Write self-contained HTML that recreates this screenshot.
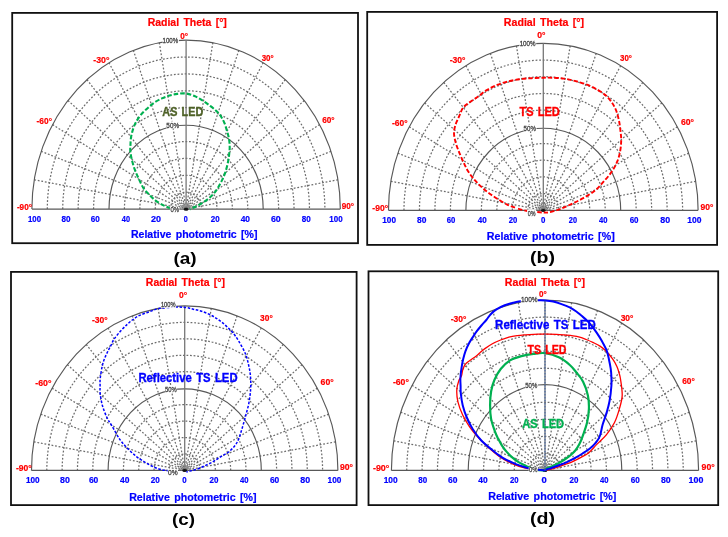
<!DOCTYPE html>
<html><head><meta charset="utf-8"><style>
html,body{margin:0;padding:0;background:#fff;}
svg{display:block;will-change:transform;}
text{font-family:"Liberation Sans",sans-serif;}
.dot{fill:none;stroke:#6c6c6c;stroke-width:1.25;stroke-dasharray:1.8 1.8;}
.sol{fill:none;stroke:#585858;stroke-width:1.15;}
.ctr{fill:none;stroke:#777;stroke-width:1.3;}
</style></head><body>
<svg width="728" height="537" viewBox="0 0 728 537">
<rect width="728" height="537" fill="#fff"/>
<rect x="12.2" y="12.9" width="345.8" height="230.3" fill="none" stroke="#111" stroke-width="1.8"/>
<g id="G_a"><path class="dot" d="M170.68 209.1 A15.42 16.9 0 0 1 201.52 209.1"/>
<path class="dot" d="M155.26 209.1 A30.84 33.8 0 0 1 216.94 209.1"/>
<path class="dot" d="M139.84 209.1 A46.26 50.7 0 0 1 232.36 209.1"/>
<path class="dot" d="M124.42 209.1 A61.68 67.6 0 0 1 247.78 209.1"/>
<path class="dot" d="M93.58 209.1 A92.52 101.4 0 0 1 278.62 209.1"/>
<path class="dot" d="M78.16 209.1 A107.94 118.3 0 0 1 294.04 209.1"/>
<path class="dot" d="M62.74 209.1 A123.36 135.2 0 0 1 309.46 209.1"/>
<path class="dot" d="M47.32 209.1 A138.78 152.1 0 0 1 324.88 209.1"/>
<path class="dot" d="M34.24 179.75 L186.1 209.1"/>
<path class="dot" d="M41.2 151.3 L186.1 209.1"/>
<path class="dot" d="M52.56 124.6 L186.1 209.1"/>
<path class="dot" d="M67.98 100.47 L186.1 209.1"/>
<path class="dot" d="M86.98 79.64 L186.1 209.1"/>
<path class="dot" d="M109 62.74 L186.1 209.1"/>
<path class="dot" d="M133.36 50.29 L186.1 209.1"/>
<path class="dot" d="M159.32 42.67 L186.1 209.1"/>
<path class="dot" d="M212.88 42.67 L186.1 209.1"/>
<path class="dot" d="M238.84 50.29 L186.1 209.1"/>
<path class="dot" d="M263.2 62.74 L186.1 209.1"/>
<path class="dot" d="M285.22 79.64 L186.1 209.1"/>
<path class="dot" d="M304.22 100.47 L186.1 209.1"/>
<path class="dot" d="M319.64 124.6 L186.1 209.1"/>
<path class="dot" d="M331 151.3 L186.1 209.1"/>
<path class="dot" d="M337.96 179.75 L186.1 209.1"/>
<path class="sol" d="M109 209.1 A77.1 83.9 0 0 1 263.2 209.1"/>
<path class="sol" d="M31.9 209.1 A154.2 169 0 0 1 340.3 209.1"/>
<path class="ctr" d="M186.1 209.1 L186.1 40.1"/>
<path class="sol" d="M31.9 209.1 L340.3 209.1"/>
<path d="M181.1 209.1 A5 5.25 0 0 1 191.1 209.1" fill="none" stroke="#999" stroke-width="0.8"/>
<path d="M183.1 209.1 A3 3.15 0 0 1 189.1 209.1" fill="none" stroke="#999" stroke-width="0.8"/>
<ellipse cx="186.1" cy="209.3" rx="2.4" ry="1.5" fill="#111"/></g>
<rect x="367.2" y="11.9" width="349.9" height="233" fill="none" stroke="#111" stroke-width="1.8"/>
<g id="G_b"><path class="dot" d="M527.82 210.3 A15.48 16.7 0 0 1 558.78 210.3"/>
<path class="dot" d="M512.34 210.3 A30.96 33.4 0 0 1 574.26 210.3"/>
<path class="dot" d="M496.86 210.3 A46.44 50.1 0 0 1 589.74 210.3"/>
<path class="dot" d="M481.38 210.3 A61.92 66.8 0 0 1 605.22 210.3"/>
<path class="dot" d="M450.42 210.3 A92.88 100.2 0 0 1 636.18 210.3"/>
<path class="dot" d="M434.94 210.3 A108.36 116.9 0 0 1 651.66 210.3"/>
<path class="dot" d="M419.46 210.3 A123.84 133.6 0 0 1 667.14 210.3"/>
<path class="dot" d="M403.98 210.3 A139.32 150.3 0 0 1 682.62 210.3"/>
<path class="dot" d="M390.85 181.3 L543.3 210.3"/>
<path class="dot" d="M397.84 153.18 L543.3 210.3"/>
<path class="dot" d="M409.24 126.8 L543.3 210.3"/>
<path class="dot" d="M424.72 102.95 L543.3 210.3"/>
<path class="dot" d="M443.8 82.37 L543.3 210.3"/>
<path class="dot" d="M465.9 65.67 L543.3 210.3"/>
<path class="dot" d="M490.36 53.37 L543.3 210.3"/>
<path class="dot" d="M516.42 45.84 L543.3 210.3"/>
<path class="dot" d="M570.18 45.84 L543.3 210.3"/>
<path class="dot" d="M596.24 53.37 L543.3 210.3"/>
<path class="dot" d="M620.7 65.67 L543.3 210.3"/>
<path class="dot" d="M642.8 82.37 L543.3 210.3"/>
<path class="dot" d="M661.88 102.95 L543.3 210.3"/>
<path class="dot" d="M677.36 126.8 L543.3 210.3"/>
<path class="dot" d="M688.76 153.18 L543.3 210.3"/>
<path class="dot" d="M695.75 181.3 L543.3 210.3"/>
<path class="sol" d="M465.9 210.3 A77.4 82.1 0 0 1 620.7 210.3"/>
<path class="sol" d="M388.5 210.3 A154.8 167 0 0 1 698.1 210.3"/>
<path class="ctr" d="M543.3 210.3 L543.3 43.3"/>
<path class="sol" d="M388.5 210.3 L698.1 210.3"/>
<path d="M538.3 210.3 A5 5.25 0 0 1 548.3 210.3" fill="none" stroke="#999" stroke-width="0.8"/>
<path d="M540.3 210.3 A3 3.15 0 0 1 546.3 210.3" fill="none" stroke="#999" stroke-width="0.8"/>
<ellipse cx="543.3" cy="210.5" rx="2.4" ry="1.5" fill="#111"/></g>
<rect x="11" y="271.9" width="345.6" height="233.2" fill="none" stroke="#111" stroke-width="1.8"/>
<g id="G_c"><path class="dot" d="M169.38 470.4 A15.32 16.45 0 0 1 200.02 470.4"/>
<path class="dot" d="M154.06 470.4 A30.64 32.9 0 0 1 215.34 470.4"/>
<path class="dot" d="M138.74 470.4 A45.96 49.35 0 0 1 230.66 470.4"/>
<path class="dot" d="M123.42 470.4 A61.28 65.8 0 0 1 245.98 470.4"/>
<path class="dot" d="M92.78 470.4 A91.92 98.7 0 0 1 276.62 470.4"/>
<path class="dot" d="M77.46 470.4 A107.24 115.15 0 0 1 291.94 470.4"/>
<path class="dot" d="M62.14 470.4 A122.56 131.6 0 0 1 307.26 470.4"/>
<path class="dot" d="M46.82 470.4 A137.88 148.05 0 0 1 322.58 470.4"/>
<path class="dot" d="M33.83 441.83 L184.7 470.4"/>
<path class="dot" d="M40.74 414.14 L184.7 470.4"/>
<path class="dot" d="M52.02 388.15 L184.7 470.4"/>
<path class="dot" d="M67.34 364.66 L184.7 470.4"/>
<path class="dot" d="M86.22 344.39 L184.7 470.4"/>
<path class="dot" d="M108.1 327.94 L184.7 470.4"/>
<path class="dot" d="M132.3 315.82 L184.7 470.4"/>
<path class="dot" d="M158.1 308.4 L184.7 470.4"/>
<path class="dot" d="M211.3 308.4 L184.7 470.4"/>
<path class="dot" d="M237.1 315.82 L184.7 470.4"/>
<path class="dot" d="M261.3 327.94 L184.7 470.4"/>
<path class="dot" d="M283.18 344.39 L184.7 470.4"/>
<path class="dot" d="M302.06 364.66 L184.7 470.4"/>
<path class="dot" d="M317.38 388.15 L184.7 470.4"/>
<path class="dot" d="M328.66 414.14 L184.7 470.4"/>
<path class="dot" d="M335.57 441.83 L184.7 470.4"/>
<path class="sol" d="M108.1 470.4 A76.6 81.6 0 0 1 261.3 470.4"/>
<path class="sol" d="M31.5 470.4 A153.2 164.5 0 0 1 337.9 470.4"/>
<path class="ctr" d="M184.7 470.4 L184.7 305.9"/>
<path class="sol" d="M31.5 470.4 L337.9 470.4"/>
<path d="M179.7 470.4 A5 5.25 0 0 1 189.7 470.4" fill="none" stroke="#999" stroke-width="0.8"/>
<path d="M181.7 470.4 A3 3.15 0 0 1 187.7 470.4" fill="none" stroke="#999" stroke-width="0.8"/>
<ellipse cx="184.7" cy="470.6" rx="2.4" ry="1.5" fill="#111"/></g>
<rect x="368.5" y="271.3" width="349.7" height="233.8" fill="none" stroke="#111" stroke-width="1.8"/>
<g id="G_d"><path class="dot" d="M529.64 470.4 A15.36 17.03 0 0 1 560.36 470.4"/>
<path class="dot" d="M514.28 470.4 A30.72 34.06 0 0 1 575.72 470.4"/>
<path class="dot" d="M498.92 470.4 A46.08 51.09 0 0 1 591.08 470.4"/>
<path class="dot" d="M483.56 470.4 A61.44 68.12 0 0 1 606.44 470.4"/>
<path class="dot" d="M452.84 470.4 A92.16 102.18 0 0 1 637.16 470.4"/>
<path class="dot" d="M437.48 470.4 A107.52 119.21 0 0 1 652.52 470.4"/>
<path class="dot" d="M422.12 470.4 A122.88 136.24 0 0 1 667.88 470.4"/>
<path class="dot" d="M406.76 470.4 A138.24 153.27 0 0 1 683.24 470.4"/>
<path class="dot" d="M393.73 440.83 L545 470.4"/>
<path class="dot" d="M400.66 412.15 L545 470.4"/>
<path class="dot" d="M411.98 385.25 L545 470.4"/>
<path class="dot" d="M427.34 360.93 L545 470.4"/>
<path class="dot" d="M446.27 339.94 L545 470.4"/>
<path class="dot" d="M468.2 322.92 L545 470.4"/>
<path class="dot" d="M492.47 310.37 L545 470.4"/>
<path class="dot" d="M518.33 302.69 L545 470.4"/>
<path class="dot" d="M571.67 302.69 L545 470.4"/>
<path class="dot" d="M597.53 310.37 L545 470.4"/>
<path class="dot" d="M621.8 322.92 L545 470.4"/>
<path class="dot" d="M643.73 339.94 L545 470.4"/>
<path class="dot" d="M662.66 360.93 L545 470.4"/>
<path class="dot" d="M678.02 385.25 L545 470.4"/>
<path class="dot" d="M689.34 412.15 L545 470.4"/>
<path class="dot" d="M696.27 440.83 L545 470.4"/>
<path class="sol" d="M468.2 470.4 A76.8 85.8 0 0 1 621.8 470.4"/>
<path class="sol" d="M391.4 470.4 A153.6 170.3 0 0 1 698.6 470.4"/>
<path class="ctr" d="M545 470.4 L545 300.1"/>
<path class="sol" d="M391.4 470.4 L698.6 470.4"/>
<path d="M540 470.4 A5 5.25 0 0 1 550 470.4" fill="none" stroke="#999" stroke-width="0.8"/>
<path d="M542 470.4 A3 3.15 0 0 1 548 470.4" fill="none" stroke="#999" stroke-width="0.8"/>
<ellipse cx="545" cy="470.6" rx="2.4" ry="1.5" fill="#111"/></g>
<g id="CURVES">
<path d="M170.5 208.6 C170.35 208.48 170.55 208.33 169.6 207.9 C168.65 207.47 166.9 207.05 164.8 206 C162.7 204.95 159.42 203.3 157 201.6 C154.58 199.9 152.55 198.05 150.3 195.8 C148.05 193.55 145.45 191 143.5 188.1 C141.55 185.2 140.05 181.47 138.6 178.4 C137.15 175.33 135.92 172.77 134.8 169.7 C133.68 166.63 132.65 163.08 131.9 160 C131.15 156.92 130.53 153.87 130.3 151.2 C130.07 148.53 130.37 146.38 130.5 144 C130.63 141.62 130.62 139.57 131.1 136.9 C131.58 134.23 132.55 130.52 133.4 128 C134.25 125.48 135 123.95 136.2 121.8 C137.4 119.65 138.75 117.33 140.6 115.1 C142.45 112.87 145.07 110.45 147.3 108.4 C149.53 106.35 151.57 104.47 154 102.8 C156.43 101.13 159.28 99.6 161.9 98.4 C164.52 97.2 167.1 96.35 169.7 95.6 C172.3 94.85 174.78 94.25 177.5 93.9 C180.22 93.55 183.17 93.15 186 93.5 C188.83 93.85 191.78 94.87 194.5 96 C197.22 97.13 199.68 98.65 202.3 100.3 C204.92 101.95 207.77 104.03 210.2 105.9 C212.63 107.77 215.05 109.65 216.9 111.5 C218.75 113.35 220 114.97 221.3 117 C222.6 119.03 223.67 121.08 224.7 123.7 C225.73 126.32 226.77 130.08 227.5 132.7 C228.23 135.32 228.73 136.98 229.1 139.4 C229.47 141.82 229.67 144.93 229.7 147.2 C229.73 149.47 229.55 150.7 229.3 153 C229.05 155.3 228.85 157.82 228.2 161 C227.55 164.18 226.57 168.62 225.4 172.1 C224.23 175.58 222.72 178.87 221.2 181.9 C219.68 184.93 218.15 187.73 216.3 190.3 C214.45 192.87 212.42 195.2 210.1 197.3 C207.78 199.4 204.85 201.32 202.4 202.9 C199.95 204.48 197.5 205.75 195.4 206.8 C193.3 207.85 190.73 208.8 189.8 209.2" fill="none" stroke="#00b050" stroke-width="2.1" stroke-dasharray="4.6 2"/>
<path d="M515 207.7 C513.77 207.22 510.32 206.15 507.6 204.8 C504.88 203.45 501.68 201.45 498.7 199.6 C495.72 197.75 492.43 195.68 489.7 193.7 C486.97 191.72 484.78 189.95 482.3 187.7 C479.82 185.45 477.17 182.93 474.8 180.2 C472.43 177.47 470.08 174.52 468.1 171.3 C466.12 168.08 464.52 164.38 462.9 160.9 C461.28 157.42 459.65 153.63 458.4 150.4 C457.15 147.17 456.13 144.4 455.4 141.5 C454.67 138.6 454 135.73 454 133 C454 130.27 454.53 127.9 455.4 125.1 C456.27 122.3 457.95 119.05 459.2 116.2 C460.45 113.35 461.3 110.23 462.9 108 C464.5 105.77 466.32 104.67 468.8 102.8 C471.28 100.93 474.82 98.92 477.8 96.8 C480.78 94.68 483.47 92.08 486.7 90.1 C489.93 88.12 493.72 86.32 497.2 84.9 C500.68 83.48 503.88 82.55 507.6 81.6 C511.32 80.65 515.53 79.77 519.5 79.2 C523.47 78.63 527.42 78.45 531.4 78.2 C535.38 77.95 539.98 77.78 543.4 77.7 C546.82 77.62 548.5 77.55 551.9 77.7 C555.3 77.85 559.82 78.02 563.8 78.6 C567.78 79.18 571.82 80.15 575.8 81.2 C579.78 82.25 583.98 83.42 587.7 84.9 C591.42 86.38 595.12 88.37 598.1 90.1 C601.08 91.83 603.37 93.32 605.6 95.3 C607.83 97.28 609.77 99.52 611.5 102 C613.23 104.48 614.75 107.08 616 110.2 C617.25 113.32 618.25 117.22 619 120.7 C619.75 124.18 620.13 127.88 620.5 131.1 C620.87 134.32 621.23 136.78 621.2 140 C621.17 143.22 620.92 146.92 620.3 150.4 C619.68 153.88 618.88 157.42 617.5 160.9 C616.12 164.38 614.32 167.83 612 171.3 C609.68 174.77 606.48 178.47 603.6 181.7 C600.72 184.93 598.1 187.97 594.7 190.7 C591.3 193.43 587.1 195.87 583.2 198.1 C579.3 200.33 575.27 202.23 571.3 204.1 C567.33 205.97 563.12 207.93 559.4 209.3 C555.68 210.67 551.73 211.77 549 212.3 C546.27 212.83 545.33 212.58 543 212.5 C540.67 212.42 537.8 212.08 535 211.8 C532.2 211.52 529.03 211.33 526.2 210.8 C523.37 210.27 519.37 208.97 518 208.6" fill="none" stroke="#ff0000" stroke-width="1.9" stroke-dasharray="4.5 2"/>
<path d="M169 471 C168.65 470.93 168.08 470.8 166.9 470.6 C165.72 470.4 164.13 470.42 161.9 469.8 C159.67 469.18 156.3 468.15 153.5 466.9 C150.7 465.65 147.88 463.98 145.1 462.3 C142.32 460.62 139.58 458.97 136.8 456.8 C134.02 454.63 131.2 452.17 128.4 449.3 C125.6 446.43 122.8 443.6 120 439.6 C117.2 435.6 113.78 428.98 111.6 425.3 C109.42 421.62 108.43 420.8 106.9 417.5 C105.37 414.2 103.52 409.48 102.4 405.5 C101.28 401.52 100.58 396.85 100.2 393.6 C99.82 390.35 100.1 388.48 100.1 386 C100.1 383.52 99.82 382.15 100.2 378.7 C100.58 375.25 101.57 368.92 102.4 365.3 C103.23 361.68 104.18 359.55 105.2 357 C106.22 354.45 107.53 351.95 108.5 350 C109.47 348.05 110.08 347.08 111 345.3 C111.92 343.52 112.4 341.68 114 339.3 C115.6 336.92 118.4 333.48 120.6 331 C122.8 328.52 125.13 326.32 127.2 324.4 C129.27 322.48 130.93 321 133 319.5 C135.07 318 136.85 316.7 139.6 315.4 C142.35 314.1 146.1 312.88 149.5 311.7 C152.9 310.52 155.93 309.05 160 308.3 C164.07 307.55 169.73 307.35 173.9 307.2 C178.07 307.05 181.78 307.07 185 307.4 C188.22 307.73 190.45 308.57 193.2 309.2 C195.95 309.83 198.75 310.32 201.5 311.2 C204.25 312.08 207.23 313.32 209.7 314.5 C212.17 315.68 214.23 316.98 216.3 318.3 C218.37 319.62 220.17 320.83 222.1 322.4 C224.03 323.97 226.12 325.98 227.9 327.7 C229.68 329.42 231.02 330.5 232.8 332.7 C234.58 334.9 236.5 337.4 238.6 340.9 C240.7 344.4 243.72 349.62 245.4 353.7 C247.08 357.78 247.87 361.77 248.7 365.4 C249.53 369.03 250.07 371.73 250.4 375.5 C250.73 379.27 250.95 383.43 250.7 388 C250.45 392.57 249.83 397.93 248.9 402.9 C247.97 407.87 246.35 413.17 245.1 417.8 C243.85 422.43 242.52 427.07 241.4 430.7 C240.28 434.33 239.47 437.13 238.4 439.6 C237.33 442.07 236.57 443.48 235 445.5 C233.43 447.52 230.92 450.1 229 451.7 C227.08 453.3 225.33 453.97 223.5 455.1 C221.67 456.23 219.83 457.35 218 458.5 C216.17 459.65 214.57 460.85 212.5 462 C210.43 463.15 207.9 464.32 205.6 465.4 C203.3 466.48 200.98 467.63 198.7 468.5 C196.42 469.37 193.95 470.03 191.9 470.6 C189.85 471.17 187.32 471.68 186.4 471.9" fill="none" stroke="#0000ff" stroke-width="1.5" stroke-dasharray="2.6 1.6"/>
<path d="M545 470.4 C543.52 470.3 539.53 470.23 536.1 469.8 C532.67 469.37 528.32 468.78 524.4 467.8 C520.48 466.82 516.85 465.85 512.6 463.9 C508.35 461.95 503.13 459.03 498.9 456.1 C494.67 453.17 490.78 449.57 487.2 446.3 C483.62 443.03 480.33 439.75 477.4 436.5 C474.47 433.25 472.05 430.38 469.6 426.8 C467.15 423.22 464.67 419.25 462.7 415 C460.73 410.75 458.78 405.53 457.8 401.3 C456.82 397.07 456.63 393.02 456.8 389.6 C456.97 386.18 458.02 383.08 458.8 380.8 C459.58 378.52 460.87 377.65 461.5 375.9 C462.13 374.15 462.13 371.97 462.6 370.3 C463.07 368.63 463.65 367.1 464.3 365.9 C464.95 364.7 465.38 364.13 466.5 363.1 C467.62 362.07 469.32 360.92 471 359.7 C472.68 358.48 475.1 356.97 476.6 355.8 C478.1 354.63 478.62 353.9 480 352.7 C481.38 351.5 482.83 350.1 484.9 348.6 C486.97 347.1 489.78 345.13 492.4 343.7 C495.02 342.27 497.85 341.1 500.6 340 C503.35 338.9 506.15 337.83 508.9 337.1 C511.65 336.37 514.37 335.98 517.1 335.6 C519.83 335.22 522.55 335.02 525.3 334.8 C528.05 334.58 531.15 334.4 533.6 334.3 C536.05 334.2 537.57 334.22 540 334.2 C542.43 334.18 545.45 334.17 548.2 334.2 C550.95 334.23 553.75 334.27 556.5 334.4 C559.25 334.53 561.95 334.77 564.7 335 C567.45 335.23 570.52 335.45 573 335.8 C575.48 336.15 577.4 336.48 579.6 337.1 C581.8 337.72 584 338.62 586.2 339.5 C588.4 340.38 590.5 341.3 592.8 342.4 C595.1 343.5 597.85 344.7 600 346.1 C602.15 347.5 603.63 348.72 605.7 350.8 C607.77 352.88 610.53 356 612.4 358.6 C614.27 361.2 615.78 363.98 616.9 366.4 C618.02 368.82 618.5 371 619.1 373.1 C619.7 375.2 619.98 375.28 620.5 379 C621.02 382.72 622.4 390.38 622.2 395.4 C622 400.42 620.6 404.53 619.3 409.1 C618 413.67 616.53 418.55 614.4 422.8 C612.27 427.05 609.43 431 606.5 434.6 C603.57 438.2 599.75 441.38 596.8 444.4 C593.85 447.42 591.43 450.53 588.8 452.7 C586.17 454.87 583.6 455.97 581 457.4 C578.4 458.83 575.82 460.13 573.2 461.3 C570.58 462.47 567.92 463.42 565.3 464.4 C562.68 465.38 559.83 466.42 557.5 467.2 C555.17 467.98 553.38 468.57 551.3 469.1 C549.22 469.63 546.05 470.18 545 470.4" fill="none" stroke="#ff0000" stroke-width="1.3"/>
<path d="M545 470.4 C543.5 470.27 538.85 470.2 536 469.6 C533.15 469 529.78 467.53 527.9 466.8 C526.02 466.07 526.27 465.98 524.7 465.2 C523.13 464.42 520.58 463.4 518.5 462.1 C516.42 460.8 514.17 459.1 512.2 457.4 C510.23 455.7 508.4 453.87 506.7 451.9 C505 449.93 503.43 447.82 502 445.6 C500.57 443.38 499.27 440.93 498.1 438.6 C496.93 436.27 496.17 434.88 495 431.6 C493.83 428.32 491.92 423.3 491.1 418.9 C490.28 414.5 490.1 409.77 490.1 405.2 C490.1 400.63 490.37 395.73 491.1 391.5 C491.83 387.27 492.9 383.55 494.5 379.8 C496.1 376.05 498.18 372.2 500.7 369 C503.22 365.8 506.13 362.75 509.6 360.6 C513.07 358.45 517.52 357.22 521.5 356.1 C525.48 354.98 529.52 354.38 533.5 353.9 C537.48 353.42 541.08 352.58 545.4 353.2 C549.72 353.82 555.33 355.63 559.4 357.6 C563.47 359.57 567.03 362.6 569.8 365 C572.57 367.4 573.78 369.22 576 372 C578.22 374.78 581.12 377.8 583.1 381.7 C585.08 385.6 586.93 390.83 587.9 395.4 C588.87 399.97 589.05 404.53 588.9 409.1 C588.75 413.67 588.05 418.27 587 422.8 C585.95 427.33 583.87 432.75 582.6 436.3 C581.33 439.85 580.58 441.77 579.4 444.1 C578.22 446.43 576.93 448.48 575.5 450.3 C574.07 452.12 572.5 453.55 570.8 455 C569.1 456.45 567.25 457.68 565.3 459 C563.35 460.32 561.18 461.73 559.1 462.9 C557.02 464.07 554.77 465.1 552.8 466 C550.83 466.9 548.6 467.57 547.3 468.3 C546 469.03 545.38 470.05 545 470.4" fill="none" stroke="#00b050" stroke-width="2.2"/>
<path d="M545 470.4 C543.5 470.25 538.73 469.85 536 469.5 C533.27 469.15 530.22 468.62 528.6 468.3 C526.98 467.98 527.73 468.05 526.3 467.6 C524.87 467.15 522.22 466.38 520 465.6 C517.78 464.82 515.33 463.88 513 462.9 C510.67 461.92 508.22 460.88 506 459.7 C503.78 458.52 501.53 457.03 499.7 455.8 C497.87 454.57 498.07 454.85 495 452.3 C491.93 449.75 485.05 444.43 481.3 440.5 C477.55 436.57 474.95 432.62 472.5 428.7 C470.05 424.78 468.23 420.92 466.6 417 C464.97 413.08 463.67 409.12 462.7 405.2 C461.73 401.28 461.15 396.7 460.8 393.5 C460.45 390.3 460.67 388.55 460.6 386 C460.53 383.45 460.25 381.18 460.4 378.2 C460.55 375.22 461.03 371.28 461.5 368.1 C461.97 364.92 462.55 361.9 463.2 359.1 C463.85 356.3 464.45 353.9 465.4 351.3 C466.35 348.7 467.57 346.02 468.9 343.5 C470.23 340.98 472.08 338.25 473.4 336.2 C474.72 334.15 475.47 332.98 476.8 331.2 C478.13 329.42 479.82 327.37 481.4 325.5 C482.98 323.63 484.75 321.88 486.3 320 C487.85 318.12 489 315.97 490.7 314.2 C492.4 312.43 494.17 310.88 496.5 309.4 C498.83 307.92 501.95 306.4 504.7 305.3 C507.45 304.2 510.38 303.48 513 302.8 C515.62 302.12 517.57 301.6 520.4 301.2 C523.23 300.8 526.73 300.57 530 300.4 C533.27 300.23 537.5 300.2 540 300.2 C542.5 300.2 542.8 300.17 545 300.4 C547.2 300.63 550.45 300.98 553.2 301.6 C555.95 302.22 558.75 303.13 561.5 304.1 C564.25 305.07 567.23 306.17 569.7 307.4 C572.17 308.63 574.37 310.13 576.3 311.5 C578.23 312.87 579.65 314.23 581.3 315.6 C582.95 316.97 584.73 318.32 586.2 319.7 C587.67 321.08 588.33 321.7 590.1 323.9 C591.87 326.1 594.77 329.92 596.8 332.9 C598.83 335.88 600.63 338.82 602.3 341.8 C603.97 344.78 605.68 347.82 606.8 350.8 C607.92 353.78 608.35 356.73 609 359.7 C609.65 362.67 610.32 366.05 610.7 368.6 C611.08 371.15 611.18 372.15 611.3 375 C611.42 377.85 611.7 381.32 611.4 385.7 C611.1 390.08 610.32 396.73 609.5 401.3 C608.68 405.87 607.65 409.18 606.5 413.1 C605.35 417.02 603.73 420.9 602.6 424.8 C601.47 428.7 600.97 433.35 599.7 436.5 C598.43 439.65 596.68 441.65 595 443.7 C593.32 445.75 591.67 447.17 589.6 448.8 C587.53 450.43 585.08 451.93 582.6 453.5 C580.12 455.07 577.32 456.77 574.7 458.2 C572.08 459.63 569.5 460.93 566.9 462.1 C564.3 463.27 561.7 464.22 559.1 465.2 C556.5 466.18 553.38 467.28 551.3 468 C549.22 468.72 547.65 469.1 546.6 469.5 C545.55 469.9 545.27 470.25 545 470.4" fill="none" stroke="#0000ff" stroke-width="2.0"/>
<path d="M545 470.4 L545 300.1" fill="none" stroke="#3f64a8" stroke-width="1.1" stroke-dasharray="1.6 1.4"/>
</g>
<text id="L_a_title" x="147.65" y="26.07" font-size="10.6" fill="#ff0000" font-weight="bold" textLength="79.2" lengthAdjust="spacingAndGlyphs" stroke="#ff0000" stroke-width="0.2" word-spacing="1.4">Radial Theta [°]</text>
<text id="L_b_title" x="503.85" y="25.7" font-size="10.6" fill="#ff0000" font-weight="bold" textLength="80.15" lengthAdjust="spacingAndGlyphs" stroke="#ff0000" stroke-width="0.2" word-spacing="1.4">Radial Theta [°]</text>
<text id="L_c_title" x="145.85" y="286.1" font-size="10.6" fill="#ff0000" font-weight="bold" textLength="79.15" lengthAdjust="spacingAndGlyphs" stroke="#ff0000" stroke-width="0.2" word-spacing="1.4">Radial Theta [°]</text>
<text id="L_d_title" x="504.85" y="285.55" font-size="10.6" fill="#ff0000" font-weight="bold" textLength="80.15" lengthAdjust="spacingAndGlyphs" stroke="#ff0000" stroke-width="0.2" word-spacing="1.4">Radial Theta [°]</text>
<text id="L_a_0" x="180.2" y="38.65" font-size="8.7" fill="#ff0000" font-weight="bold" textLength="7.8" lengthAdjust="spacingAndGlyphs" stroke="#ff0000" stroke-width="0.2">0°</text>
<text id="L_b_0" x="537.2" y="38.1" font-size="8.7" fill="#ff0000" font-weight="bold" textLength="8.25" lengthAdjust="spacingAndGlyphs" stroke="#ff0000" stroke-width="0.2">0°</text>
<text id="L_c_0" x="178.9" y="298.1" font-size="8.7" fill="#ff0000" font-weight="bold" textLength="8.15" lengthAdjust="spacingAndGlyphs" stroke="#ff0000" stroke-width="0.2">0°</text>
<text id="L_d_0" x="539" y="297.3" font-size="8.7" fill="#ff0000" font-weight="bold" textLength="7.75" lengthAdjust="spacingAndGlyphs" stroke="#ff0000" stroke-width="0.2">0°</text>
<text id="L_a_ang-30" x="93.3" y="63" font-size="9" fill="#ff0000" font-weight="bold" textLength="16.15" lengthAdjust="spacingAndGlyphs" stroke="#ff0000" stroke-width="0.2">-30°</text>
<text id="L_a_ang30" x="261.7" y="60.9" font-size="9" fill="#ff0000" font-weight="bold" textLength="12.05" lengthAdjust="spacingAndGlyphs" stroke="#ff0000" stroke-width="0.2">30°</text>
<text id="L_a_ang-60" x="36.6" y="124.25" font-size="9" fill="#ff0000" font-weight="bold" textLength="15.4" lengthAdjust="spacingAndGlyphs" stroke="#ff0000" stroke-width="0.2">-60°</text>
<text id="L_a_ang60" x="322.2" y="123.25" font-size="9" fill="#ff0000" font-weight="bold" textLength="12.5" lengthAdjust="spacingAndGlyphs" stroke="#ff0000" stroke-width="0.2">60°</text>
<text id="L_a_ang-90" x="16.9" y="209.65" font-size="9" fill="#ff0000" font-weight="bold" textLength="15.1" lengthAdjust="spacingAndGlyphs" stroke="#ff0000" stroke-width="0.2">-90°</text>
<text id="L_a_ang90" x="341.65" y="208.7" font-size="9" fill="#ff0000" font-weight="bold" textLength="12.4" lengthAdjust="spacingAndGlyphs" stroke="#ff0000" stroke-width="0.2">90°</text>
<text id="L_b_ang-30" x="449.65" y="62.65" font-size="9" fill="#ff0000" font-weight="bold" textLength="15.8" lengthAdjust="spacingAndGlyphs" stroke="#ff0000" stroke-width="0.2">-30°</text>
<text id="L_b_ang30" x="620.1" y="61.3" font-size="9" fill="#ff0000" font-weight="bold" textLength="11.9" lengthAdjust="spacingAndGlyphs" stroke="#ff0000" stroke-width="0.2">30°</text>
<text id="L_b_ang-60" x="392" y="125.65" font-size="9" fill="#ff0000" font-weight="bold" textLength="15.55" lengthAdjust="spacingAndGlyphs" stroke="#ff0000" stroke-width="0.2">-60°</text>
<text id="L_b_ang60" x="680.9" y="124.7" font-size="9" fill="#ff0000" font-weight="bold" textLength="13.1" lengthAdjust="spacingAndGlyphs" stroke="#ff0000" stroke-width="0.2">60°</text>
<text id="L_b_ang-90" x="372.3" y="210.55" font-size="9" fill="#ff0000" font-weight="bold" textLength="15.8" lengthAdjust="spacingAndGlyphs" stroke="#ff0000" stroke-width="0.2">-90°</text>
<text id="L_b_ang90" x="700.55" y="210.1" font-size="9" fill="#ff0000" font-weight="bold" textLength="12.9" lengthAdjust="spacingAndGlyphs" stroke="#ff0000" stroke-width="0.2">90°</text>
<text id="L_c_ang-30" x="91.95" y="322.55" font-size="9" fill="#ff0000" font-weight="bold" textLength="15.7" lengthAdjust="spacingAndGlyphs" stroke="#ff0000" stroke-width="0.2">-30°</text>
<text id="L_c_ang30" x="260.05" y="321.25" font-size="9" fill="#ff0000" font-weight="bold" textLength="12.7" lengthAdjust="spacingAndGlyphs" stroke="#ff0000" stroke-width="0.2">30°</text>
<text id="L_c_ang-60" x="35.3" y="385.65" font-size="9" fill="#ff0000" font-weight="bold" textLength="16.15" lengthAdjust="spacingAndGlyphs" stroke="#ff0000" stroke-width="0.2">-60°</text>
<text id="L_c_ang60" x="320.55" y="384.7" font-size="9" fill="#ff0000" font-weight="bold" textLength="13.15" lengthAdjust="spacingAndGlyphs" stroke="#ff0000" stroke-width="0.2">60°</text>
<text id="L_c_ang-90" x="15.95" y="471.45" font-size="9" fill="#ff0000" font-weight="bold" textLength="15.75" lengthAdjust="spacingAndGlyphs" stroke="#ff0000" stroke-width="0.2">-90°</text>
<text id="L_c_ang90" x="339.95" y="470" font-size="9" fill="#ff0000" font-weight="bold" textLength="13.1" lengthAdjust="spacingAndGlyphs" stroke="#ff0000" stroke-width="0.2">90°</text>
<text id="L_d_ang-30" x="450.65" y="322" font-size="9" fill="#ff0000" font-weight="bold" textLength="15.65" lengthAdjust="spacingAndGlyphs" stroke="#ff0000" stroke-width="0.2">-30°</text>
<text id="L_d_ang30" x="620.65" y="320.9" font-size="9" fill="#ff0000" font-weight="bold" textLength="12.8" lengthAdjust="spacingAndGlyphs" stroke="#ff0000" stroke-width="0.2">30°</text>
<text id="L_d_ang-60" x="392.9" y="385.3" font-size="9" fill="#ff0000" font-weight="bold" textLength="16" lengthAdjust="spacingAndGlyphs" stroke="#ff0000" stroke-width="0.2">-60°</text>
<text id="L_d_ang60" x="682.2" y="384" font-size="9" fill="#ff0000" font-weight="bold" textLength="12.7" lengthAdjust="spacingAndGlyphs" stroke="#ff0000" stroke-width="0.2">60°</text>
<text id="L_d_ang-90" x="372.95" y="470.55" font-size="9" fill="#ff0000" font-weight="bold" textLength="16.45" lengthAdjust="spacingAndGlyphs" stroke="#ff0000" stroke-width="0.2">-90°</text>
<text id="L_d_ang90" x="701.55" y="470" font-size="9" fill="#ff0000" font-weight="bold" textLength="13.2" lengthAdjust="spacingAndGlyphs" stroke="#ff0000" stroke-width="0.2">90°</text>
<text id="L_a_n0" x="28" y="221.55" font-size="8.4" fill="#0000ff" font-weight="bold" textLength="13.1" lengthAdjust="spacingAndGlyphs" stroke="#0000ff" stroke-width="0.2">100</text>
<text id="L_a_n1" x="61.6" y="221.55" font-size="8.4" fill="#0000ff" font-weight="bold" textLength="9.05" lengthAdjust="spacingAndGlyphs" stroke="#0000ff" stroke-width="0.2">80</text>
<text id="L_a_n2" x="90.65" y="221.55" font-size="8.4" fill="#0000ff" font-weight="bold" textLength="9" lengthAdjust="spacingAndGlyphs" stroke="#0000ff" stroke-width="0.2">60</text>
<text id="L_a_n3" x="121.8" y="221.55" font-size="8.4" fill="#0000ff" font-weight="bold" textLength="8.2" lengthAdjust="spacingAndGlyphs" stroke="#0000ff" stroke-width="0.2">40</text>
<text id="L_a_n4" x="151" y="221.55" font-size="8.4" fill="#0000ff" font-weight="bold" textLength="10" lengthAdjust="spacingAndGlyphs" stroke="#0000ff" stroke-width="0.2">20</text>
<text id="L_a_n5" x="183.65" y="221.55" font-size="8.4" fill="#0000ff" font-weight="bold" textLength="4" lengthAdjust="spacingAndGlyphs" stroke="#0000ff" stroke-width="0.2">0</text>
<text id="L_a_n6" x="210.8" y="221.55" font-size="8.4" fill="#0000ff" font-weight="bold" textLength="8.85" lengthAdjust="spacingAndGlyphs" stroke="#0000ff" stroke-width="0.2">20</text>
<text id="L_a_n7" x="240.65" y="221.55" font-size="8.4" fill="#0000ff" font-weight="bold" textLength="9.35" lengthAdjust="spacingAndGlyphs" stroke="#0000ff" stroke-width="0.2">40</text>
<text id="L_a_n8" x="270.9" y="221.55" font-size="8.4" fill="#0000ff" font-weight="bold" textLength="9.85" lengthAdjust="spacingAndGlyphs" stroke="#0000ff" stroke-width="0.2">60</text>
<text id="L_a_n9" x="301.65" y="221.55" font-size="8.4" fill="#0000ff" font-weight="bold" textLength="9" lengthAdjust="spacingAndGlyphs" stroke="#0000ff" stroke-width="0.2">80</text>
<text id="L_a_n10" x="329.35" y="221.55" font-size="8.4" fill="#0000ff" font-weight="bold" textLength="13.35" lengthAdjust="spacingAndGlyphs" stroke="#0000ff" stroke-width="0.2">100</text>
<text id="L_b_n0" x="382.3" y="223.35" font-size="8.4" fill="#0000ff" font-weight="bold" textLength="13.7" lengthAdjust="spacingAndGlyphs" stroke="#0000ff" stroke-width="0.2">100</text>
<text id="L_b_n1" x="417" y="223.35" font-size="8.4" fill="#0000ff" font-weight="bold" textLength="9.4" lengthAdjust="spacingAndGlyphs" stroke="#0000ff" stroke-width="0.2">80</text>
<text id="L_b_n2" x="446.65" y="223.35" font-size="8.4" fill="#0000ff" font-weight="bold" textLength="8.65" lengthAdjust="spacingAndGlyphs" stroke="#0000ff" stroke-width="0.2">60</text>
<text id="L_b_n3" x="477.75" y="223.35" font-size="8.4" fill="#0000ff" font-weight="bold" textLength="8.95" lengthAdjust="spacingAndGlyphs" stroke="#0000ff" stroke-width="0.2">40</text>
<text id="L_b_n4" x="508.7" y="223.35" font-size="8.4" fill="#0000ff" font-weight="bold" textLength="8.55" lengthAdjust="spacingAndGlyphs" stroke="#0000ff" stroke-width="0.2">20</text>
<text id="L_b_n5" x="541" y="223.35" font-size="8.4" fill="#0000ff" font-weight="bold" textLength="4.4" lengthAdjust="spacingAndGlyphs" stroke="#0000ff" stroke-width="0.2">0</text>
<text id="L_b_n6" x="568.8" y="223.35" font-size="8.4" fill="#0000ff" font-weight="bold" textLength="8.2" lengthAdjust="spacingAndGlyphs" stroke="#0000ff" stroke-width="0.2">20</text>
<text id="L_b_n7" x="599.1" y="223.35" font-size="8.4" fill="#0000ff" font-weight="bold" textLength="8.45" lengthAdjust="spacingAndGlyphs" stroke="#0000ff" stroke-width="0.2">40</text>
<text id="L_b_n8" x="629.65" y="223.35" font-size="8.4" fill="#0000ff" font-weight="bold" textLength="8.9" lengthAdjust="spacingAndGlyphs" stroke="#0000ff" stroke-width="0.2">60</text>
<text id="L_b_n9" x="660.2" y="223.35" font-size="8.4" fill="#0000ff" font-weight="bold" textLength="9.9" lengthAdjust="spacingAndGlyphs" stroke="#0000ff" stroke-width="0.2">80</text>
<text id="L_b_n10" x="687.2" y="223.35" font-size="8.4" fill="#0000ff" font-weight="bold" textLength="14.2" lengthAdjust="spacingAndGlyphs" stroke="#0000ff" stroke-width="0.2">100</text>
<text id="L_c_n0" x="25.95" y="483.25" font-size="8.4" fill="#0000ff" font-weight="bold" textLength="13.7" lengthAdjust="spacingAndGlyphs" stroke="#0000ff" stroke-width="0.2">100</text>
<text id="L_c_n1" x="60" y="483.25" font-size="8.4" fill="#0000ff" font-weight="bold" textLength="9.8" lengthAdjust="spacingAndGlyphs" stroke="#0000ff" stroke-width="0.2">80</text>
<text id="L_c_n2" x="88.9" y="483.25" font-size="8.4" fill="#0000ff" font-weight="bold" textLength="9.45" lengthAdjust="spacingAndGlyphs" stroke="#0000ff" stroke-width="0.2">60</text>
<text id="L_c_n3" x="120" y="483.25" font-size="8.4" fill="#0000ff" font-weight="bold" textLength="9.45" lengthAdjust="spacingAndGlyphs" stroke="#0000ff" stroke-width="0.2">40</text>
<text id="L_c_n4" x="150.65" y="483.25" font-size="8.4" fill="#0000ff" font-weight="bold" textLength="9.05" lengthAdjust="spacingAndGlyphs" stroke="#0000ff" stroke-width="0.2">20</text>
<text id="L_c_n5" x="182.25" y="483.25" font-size="8.4" fill="#0000ff" font-weight="bold" textLength="4.4" lengthAdjust="spacingAndGlyphs" stroke="#0000ff" stroke-width="0.2">0</text>
<text id="L_c_n6" x="209.45" y="483.25" font-size="8.4" fill="#0000ff" font-weight="bold" textLength="8.9" lengthAdjust="spacingAndGlyphs" stroke="#0000ff" stroke-width="0.2">20</text>
<text id="L_c_n7" x="240.1" y="483.25" font-size="8.4" fill="#0000ff" font-weight="bold" textLength="8.55" lengthAdjust="spacingAndGlyphs" stroke="#0000ff" stroke-width="0.2">40</text>
<text id="L_c_n8" x="269.9" y="483.25" font-size="8.4" fill="#0000ff" font-weight="bold" textLength="9.4" lengthAdjust="spacingAndGlyphs" stroke="#0000ff" stroke-width="0.2">60</text>
<text id="L_c_n9" x="300.2" y="483.25" font-size="8.4" fill="#0000ff" font-weight="bold" textLength="9.9" lengthAdjust="spacingAndGlyphs" stroke="#0000ff" stroke-width="0.2">80</text>
<text id="L_c_n10" x="327.6" y="483.25" font-size="8.4" fill="#0000ff" font-weight="bold" textLength="13.8" lengthAdjust="spacingAndGlyphs" stroke="#0000ff" stroke-width="0.2">100</text>
<text id="L_d_n0" x="383.65" y="483.3" font-size="8.4" fill="#0000ff" font-weight="bold" textLength="14" lengthAdjust="spacingAndGlyphs" stroke="#0000ff" stroke-width="0.2">100</text>
<text id="L_d_n1" x="418.35" y="483.3" font-size="8.4" fill="#0000ff" font-weight="bold" textLength="8.95" lengthAdjust="spacingAndGlyphs" stroke="#0000ff" stroke-width="0.2">80</text>
<text id="L_d_n2" x="448" y="483.3" font-size="8.4" fill="#0000ff" font-weight="bold" textLength="9.45" lengthAdjust="spacingAndGlyphs" stroke="#0000ff" stroke-width="0.2">60</text>
<text id="L_d_n3" x="478.35" y="483.3" font-size="8.4" fill="#0000ff" font-weight="bold" textLength="9.35" lengthAdjust="spacingAndGlyphs" stroke="#0000ff" stroke-width="0.2">40</text>
<text id="L_d_n4" x="510.05" y="483.3" font-size="8.4" fill="#0000ff" font-weight="bold" textLength="8.6" lengthAdjust="spacingAndGlyphs" stroke="#0000ff" stroke-width="0.2">20</text>
<text id="L_d_n5" x="541.55" y="483.3" font-size="8.4" fill="#0000ff" font-weight="bold" textLength="5.25" lengthAdjust="spacingAndGlyphs" stroke="#0000ff" stroke-width="0.2">0</text>
<text id="L_d_n6" x="569.45" y="483.3" font-size="8.4" fill="#0000ff" font-weight="bold" textLength="8.9" lengthAdjust="spacingAndGlyphs" stroke="#0000ff" stroke-width="0.2">20</text>
<text id="L_d_n7" x="600.1" y="483.3" font-size="8.4" fill="#0000ff" font-weight="bold" textLength="8.55" lengthAdjust="spacingAndGlyphs" stroke="#0000ff" stroke-width="0.2">40</text>
<text id="L_d_n8" x="630.65" y="483.3" font-size="8.4" fill="#0000ff" font-weight="bold" textLength="9.05" lengthAdjust="spacingAndGlyphs" stroke="#0000ff" stroke-width="0.2">60</text>
<text id="L_d_n9" x="660.95" y="483.3" font-size="8.4" fill="#0000ff" font-weight="bold" textLength="9.8" lengthAdjust="spacingAndGlyphs" stroke="#0000ff" stroke-width="0.2">80</text>
<text id="L_d_n10" x="688.6" y="483.3" font-size="8.4" fill="#0000ff" font-weight="bold" textLength="14.8" lengthAdjust="spacingAndGlyphs" stroke="#0000ff" stroke-width="0.2">100</text>
<text id="L_a_rel" x="130.9" y="238.2" font-size="10.6" fill="#0000ff" font-weight="bold" textLength="126.55" lengthAdjust="spacingAndGlyphs" stroke="#0000ff" stroke-width="0.2" word-spacing="1.4">Relative photometric [%]</text>
<text id="L_b_rel" x="486.8" y="239.9" font-size="10.6" fill="#0000ff" font-weight="bold" textLength="127.9" lengthAdjust="spacingAndGlyphs" stroke="#0000ff" stroke-width="0.2" word-spacing="1.4">Relative photometric [%]</text>
<text id="L_c_rel" x="129.2" y="500.6" font-size="10.6" fill="#0000ff" font-weight="bold" textLength="127.35" lengthAdjust="spacingAndGlyphs" stroke="#0000ff" stroke-width="0.2" word-spacing="1.4">Relative photometric [%]</text>
<text id="L_d_rel" x="488.2" y="500.15" font-size="10.6" fill="#0000ff" font-weight="bold" textLength="128.25" lengthAdjust="spacingAndGlyphs" stroke="#0000ff" stroke-width="0.2" word-spacing="1.4">Relative photometric [%]</text>
<text id="L_a_cap" x="173.45" y="264.27" font-size="16.6" fill="#000000" font-weight="bold" textLength="23.2" lengthAdjust="spacingAndGlyphs">(a)</text>
<text id="L_b_cap" x="530" y="263.3" font-size="16.6" fill="#000000" font-weight="bold" textLength="25" lengthAdjust="spacingAndGlyphs">(b)</text>
<text id="L_c_cap" x="172" y="525" font-size="16.6" fill="#000000" font-weight="bold" textLength="23" lengthAdjust="spacingAndGlyphs">(c)</text>
<text id="L_d_cap" x="530" y="524.3" font-size="16.6" fill="#000000" font-weight="bold" textLength="25" lengthAdjust="spacingAndGlyphs">(d)</text>
<rect id="B_a_p100" x="162.6" y="36.6" width="16.3" height="6.8" fill="#fff"/><text id="L_a_p100" x="162.55" y="42.55" font-size="7.9" fill="#3c3c3c" font-weight="normal" textLength="15.65" lengthAdjust="spacingAndGlyphs" stroke="#3c3c3c" stroke-width="0.3">100%</text>
<rect id="B_a_p50" x="166" y="121.4" width="13.1" height="7" fill="#fff"/><text id="L_a_p50" x="166.35" y="127.55" font-size="7.9" fill="#3c3c3c" font-weight="normal" textLength="12.75" lengthAdjust="spacingAndGlyphs" stroke="#3c3c3c" stroke-width="0.3">50%</text>
<rect id="B_a_p0" x="169.9" y="206.9" width="9.4" height="6" fill="#fff"/><text id="L_a_p0" x="170.4" y="212.3" font-size="7.9" fill="#3c3c3c" font-weight="normal" textLength="8.6" lengthAdjust="spacingAndGlyphs" stroke="#3c3c3c" stroke-width="0.3">0%</text>
<rect id="B_b_p100" x="519.4" y="40.8" width="16.8" height="5.4" fill="#fff"/><text id="L_b_p100" x="519.65" y="45.65" font-size="7.9" fill="#3c3c3c" font-weight="normal" textLength="15.9" lengthAdjust="spacingAndGlyphs" stroke="#3c3c3c" stroke-width="0.3">100%</text>
<rect id="B_b_p50" x="523.5" y="124.4" width="13" height="7" fill="#fff"/><text id="L_b_p50" x="523.6" y="130.55" font-size="7.9" fill="#3c3c3c" font-weight="normal" textLength="12.3" lengthAdjust="spacingAndGlyphs" stroke="#3c3c3c" stroke-width="0.3">50%</text>
<rect id="B_b_p0" x="527.1" y="209.6" width="9.1" height="6.6" fill="#fff"/><text id="L_b_p0" x="527.8" y="215.65" font-size="7.9" fill="#3c3c3c" font-weight="normal" textLength="7.75" lengthAdjust="spacingAndGlyphs" stroke="#3c3c3c" stroke-width="0.3">0%</text>
<rect id="B_c_p100" x="160.8" y="303.1" width="15.4" height="4.8" fill="#fff"/><text id="L_c_p100" x="160.95" y="307.3" font-size="7.9" fill="#3c3c3c" font-weight="normal" textLength="14.6" lengthAdjust="spacingAndGlyphs" stroke="#3c3c3c" stroke-width="0.3">100%</text>
<rect id="B_c_p50" x="164.9" y="385.5" width="12.2" height="6.8" fill="#fff"/><text id="L_c_p50" x="164.9" y="392.1" font-size="7.9" fill="#3c3c3c" font-weight="normal" textLength="11.7" lengthAdjust="spacingAndGlyphs" stroke="#3c3c3c" stroke-width="0.3">50%</text>
<rect id="B_c_p0" x="167.7" y="469" width="10.3" height="6.3" fill="#fff"/><text id="L_c_p0" x="168" y="475.1" font-size="7.9" fill="#3c3c3c" font-weight="normal" textLength="9.65" lengthAdjust="spacingAndGlyphs" stroke="#3c3c3c" stroke-width="0.3">0%</text>
<rect id="B_d_p100" x="520.8" y="296.9" width="17.1" height="6.1" fill="#fff"/><text id="L_d_p100" x="520.95" y="302.25" font-size="7.9" fill="#3c3c3c" font-weight="normal" textLength="16.75" lengthAdjust="spacingAndGlyphs" stroke="#3c3c3c" stroke-width="0.3">100%</text>
<rect id="B_d_p50" x="525.2" y="381.3" width="12.7" height="7.1" fill="#fff"/><text id="L_d_p50" x="525.25" y="387.55" font-size="7.9" fill="#3c3c3c" font-weight="normal" textLength="11.95" lengthAdjust="spacingAndGlyphs" stroke="#3c3c3c" stroke-width="0.3">50%</text>
<rect id="B_d_p0" x="528.7" y="467.2" width="9.3" height="5.6" fill="#fff"/><text id="L_d_p0" x="529" y="472.35" font-size="7.9" fill="#3c3c3c" font-weight="normal" textLength="8.65" lengthAdjust="spacingAndGlyphs" stroke="#3c3c3c" stroke-width="0.3">0%</text>
<text id="L_a_as" x="162.35" y="115.55" font-size="12.8" fill="#4f6228" font-weight="bold" textLength="40.95" lengthAdjust="spacingAndGlyphs" stroke="#4f6228" stroke-width="0.35" word-spacing="1.4">AS LED</text>
<text id="L_b_ts" x="519.45" y="115.9" font-size="12.8" fill="#ff0000" font-weight="bold" textLength="40.3" lengthAdjust="spacingAndGlyphs" stroke="#ff0000" stroke-width="0.35" word-spacing="1.4">TS LED</text>
<text id="L_c_rts" x="138.45" y="381.55" font-size="12.8" fill="#0000ff" font-weight="bold" textLength="99.1" lengthAdjust="spacingAndGlyphs" stroke="#0000ff" stroke-width="0.35" word-spacing="1.4">Reflective TS LED</text>
<text id="L_d_rts" x="495.1" y="328.65" font-size="12.8" fill="#0000ff" font-weight="bold" textLength="100.7" lengthAdjust="spacingAndGlyphs" stroke="#0000ff" stroke-width="0.35" word-spacing="1.4">Reflective TS LED</text>
<text id="L_d_ts" x="527.45" y="354" font-size="12.8" fill="#ff0000" font-weight="bold" textLength="39" lengthAdjust="spacingAndGlyphs" stroke="#ff0000" stroke-width="0.35" word-spacing="1.4">TS LED</text>
<text id="L_d_as" x="522.25" y="427.55" font-size="12.8" fill="#00b050" font-weight="bold" textLength="41.75" lengthAdjust="spacingAndGlyphs" stroke="#00b050" stroke-width="0.35" word-spacing="1.4">AS LED</text>
</svg></body></html>
